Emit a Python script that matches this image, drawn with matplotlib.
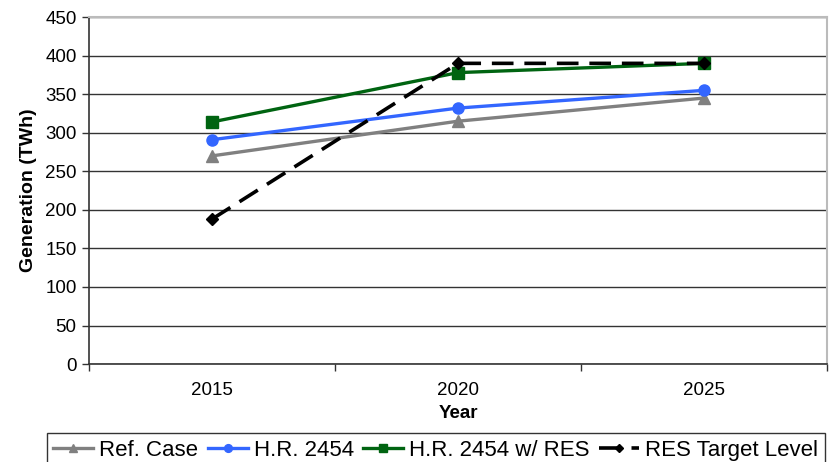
import matplotlib
matplotlib.use('Agg')
import matplotlib.pyplot as plt
import numpy as np

plt.rcParams['font.family'] = ['Liberation Sans', 'DejaVu Sans']

years = ['2015', '2020', '2025']
ref_case = [270, 315, 345]
hr_2454 = [291, 332, 355]
hr_2454_res = [314, 378, 390]
res_target = [188, 390, 390]

x = np.arange(len(years))

fig = plt.figure(figsize=(8.32, 4.62), dpi=100)
ax = fig.add_axes([0.107, 0.212, 0.887, 0.751])

ax.plot(x, ref_case, color='#808080', lw=2.4, marker='^', ms=8, label='Ref. Case')
ax.plot(x, hr_2454, color='#3366FF', lw=2.4, marker='o', ms=8, label='H.R. 2454')
ax.plot(x, hr_2454_res, color='#006411', lw=2.4, marker='s', ms=8, label='H.R. 2454 w/ RES')
ax.plot(x, res_target, color='black', lw=2.6, ls=(0, (6, 3)), marker='D', ms=6,
        label='RES Target Level')

ax.set_xlim(-0.5, 2.5)
ax.set_ylim(0, 450)
ax.set_yticks(np.arange(0, 451, 50))
ax.set_xticks(x)
ax.set_xticklabels(years)
ax.set_xticks([-0.5, 0.5, 1.5, 2.5], minor=True)
ax.tick_params(axis='x', which='major', length=0, pad=13, labelsize=13.5)
ax.tick_params(axis='x', which='minor', length=5, width=1, color='#333333')
ax.tick_params(axis='y', length=5, width=1, color='#333333', labelsize=13.5, pad=4)

ax.grid(axis='y', color='#333333', lw=1)
ax.set_axisbelow(True)
for s in ['left', 'bottom']:
    ax.spines[s].set_color('#333333')
    ax.spines[s].set_linewidth(1.2)
for s in ['top', 'right']:
    ax.spines[s].set_color('#BBBBBB')
    ax.spines[s].set_linewidth(1.5)

ax.set_xlabel('Year', fontsize=13.5, fontweight='bold', labelpad=4)
ax.set_ylabel('Generation (TWh)', fontsize=14, fontweight='bold', labelpad=6)

leg = fig.legend(loc='upper left', bbox_to_anchor=(0.056, 0.063), bbox_transform=fig.transFigure,
                 ncol=4, fontsize=16, frameon=True, fancybox=False, edgecolor='black',
                 borderpad=0.3, handlelength=1.8, handletextpad=0.27, columnspacing=0.42,
                 borderaxespad=0, markerscale=0.7)
leg.get_frame().set_linewidth(1.0)

fig.savefig('out.png', dpi=100)
